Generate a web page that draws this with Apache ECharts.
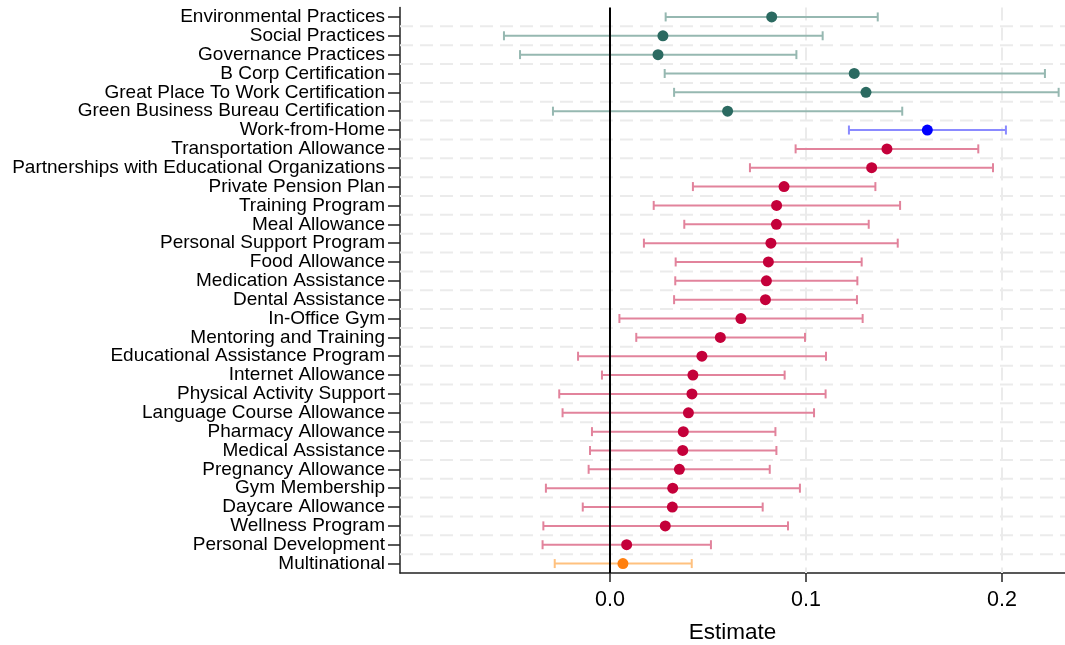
<!DOCTYPE html>
<html>
<head>
<meta charset="utf-8">
<script src="https://cdn.jsdelivr.net/npm/echarts@6/dist/echarts.min.js"></script>
<style>html,body{margin:0;padding:0;background:#fff;}#c{width:1065px;height:645px;}</style>
</head>
<body>
<div id="c"></div>
<script>
const categories = [
  'Environmental Practices','Social Practices','Governance Practices','B Corp Certification',
  'Great Place To Work Certification','Green Business Bureau Certification','Work-from-Home',
  'Transportation Allowance','Partnerships with Educational Organizations','Private Pension Plan',
  'Training Program','Meal Allowance','Personal Support Program','Food Allowance',
  'Medication Assistance','Dental Assistance','In-Office Gym','Mentoring and Training',
  'Educational Assistance Program','Internet Allowance','Physical Activity Support',
  'Language Course Allowance','Pharmacy Allowance','Medical Assistance','Pregnancy Allowance',
  'Gym Membership','Daycare Allowance','Wellness Program','Personal Development','Multinational'
];
const estimates = [0.0825,0.0270,0.0245,0.1246,0.1306,0.0600,0.1619,0.1413,0.1335,0.0888,
  0.0850,0.0849,0.0821,0.0808,0.0798,0.0793,0.0668,0.0563,0.0469,0.0423,
  0.0418,0.0400,0.0374,0.0371,0.0354,0.0320,0.0318,0.0282,0.0085,0.0066];
const lowers = [0.0284,-0.0541,-0.0459,0.0279,0.0327,-0.0291,0.1219,0.0947,0.0714,0.0423,
  0.0223,0.0379,0.0173,0.0335,0.0333,0.0327,0.0048,0.0134,-0.0163,-0.0041,
  -0.0259,-0.0242,-0.0092,-0.0102,-0.0109,-0.0327,-0.0139,-0.0340,-0.0344,-0.0282];
const uppers = [0.1366,0.1085,0.0951,0.2219,0.2289,0.1491,0.2020,0.1879,0.1954,0.1354,
  0.1480,0.1320,0.1468,0.1284,0.1262,0.1260,0.1289,0.0995,0.1102,0.0891,
  0.1100,0.1041,0.0844,0.0849,0.0815,0.0969,0.0779,0.0908,0.0515,0.0417];
const groups = ['esg','esg','esg','esg','esg','esg','remote',
  'benefit','benefit','benefit','benefit','benefit','benefit','benefit','benefit','benefit',
  'benefit','benefit','benefit','benefit','benefit','benefit','benefit','benefit','benefit',
  'benefit','benefit','benefit','benefit','control'];
const xTicks = [0, 0.1, 0.2];
const xGridValues = [0.1, 0.2];
const zeroValue = 0;

const pointColors = {esg:'#2b6a61', remote:'#0000ff', benefit:'#c4003a', control:'#ff7f0e'};
const barColors = {esg:'#96b8b1', remote:'#8a8aff', benefit:'#e2839c', control:'#ffc17f'};
const FONT = '"Liberation Sans", Arial, Helvetica, sans-serif';
const GRID_STYLE = {stroke:'#ebebeb', lineWidth:2, lineDash:[13,7]};

const chart = echarts.init(document.getElementById('c'), null, {renderer:'canvas'});
const barData = categories.map((c,i)=>[lowers[i], uppers[i], i]);
const ptData = categories.map((c,i)=>({value:[estimates[i], i], itemStyle:{color:pointColors[groups[i]], opacity:1}}));

chart.setOption({
  animation:false,
  backgroundColor:'#ffffff',
  grid:{left:400, right:0, top:7.5, bottom:72, containLabel:false, outerBoundsMode:'none'},
  xAxis:{
    type:'value', min:-0.10714, max:0.23214,
    name:'Estimate', nameLocation:'middle', nameGap:48,
    nameTextStyle:{fontFamily:FONT, fontSize:22.5, color:'#000'},
    axisLine:{show:true, onZero:false, lineStyle:{color:'#222', width:1.5}},
    axisTick:{show:true, customValues:xTicks, length:9, lineStyle:{color:'#222', width:1.5}},
    axisLabel:{customValues:xTicks, formatter:v=>Number(v).toFixed(1), margin:16,
      fontFamily:FONT, fontSize:21.5, color:'#000'},
    splitLine:{show:false}
  },
  yAxis:{
    type:'category', data:categories, inverse:true,
    axisLine:{show:true, onZero:false, lineStyle:{color:'#222', width:1.5}},
    axisTick:{show:true, alignWithLabel:true, interval:0, length:12, lineStyle:{color:'#222', width:1.5}},
    axisLabel:{interval:0, margin:15, fontFamily:FONT, fontSize:19, color:'#000'},
    splitLine:{show:false}
  },
  series:[
    {
      type:'custom', z:1, silent:true,
      data:[[0, 0]],
      encode:{x:0, y:1},
      renderItem:function(params, api){
        const cs = params.coordSys;
        const children = [];
        for (let i = 0; i < categories.length - 1; i++) {
          const a = api.coord([0, i])[1];
          const b = api.coord([0, i + 1])[1];
          const y = (a + b) / 2;
          children.push({type:'line', shape:{x1:cs.x, y1:y, x2:cs.x + cs.width, y2:y}, style:GRID_STYLE});
        }
        xGridValues.forEach(v => {
          const x = api.coord([v, 0])[0];
          children.push({type:'line', shape:{x1:x, y1:cs.y, x2:x, y2:cs.y + cs.height}, style:GRID_STYLE});
        });
        return {type:'group', children};
      }
    },
    {
      type:'custom', z:2, silent:true,
      data:barData,
      encode:{x:[0,1], y:2},
      renderItem:function(params, api){
        const lo = api.coord([api.value(0), api.value(2)]);
        const hi = api.coord([api.value(1), api.value(2)]);
        const col = barColors[groups[params.dataIndex]];
        const h = 4.5;
        const st = {stroke:col, lineWidth:2};
        return {type:'group', children:[
          {type:'line', shape:{x1:lo[0], y1:lo[1], x2:hi[0], y2:hi[1]}, style:st},
          {type:'line', shape:{x1:lo[0], y1:lo[1]-h, x2:lo[0], y2:lo[1]+h}, style:st},
          {type:'line', shape:{x1:hi[0], y1:hi[1]-h, x2:hi[0], y2:hi[1]+h}, style:st}
        ]};
      }
    },
    {
      type:'custom', z:3, silent:true,
      data:[[zeroValue, 0]],
      encode:{x:0, y:1},
      renderItem:function(params, api){
        const cs = params.coordSys;
        const x = api.coord([api.value(0), 0])[0];
        return {type:'line', shape:{x1:x, y1:cs.y, x2:x, y2:cs.y + cs.height},
          style:{stroke:'#000', lineWidth:2}};
      }
    },
    {
      type:'scatter', z:4, silent:true,
      data:ptData, symbol:'circle', symbolSize:11,
      itemStyle:{opacity:1}
    }
  ]
});
</script>
</body>
</html>
